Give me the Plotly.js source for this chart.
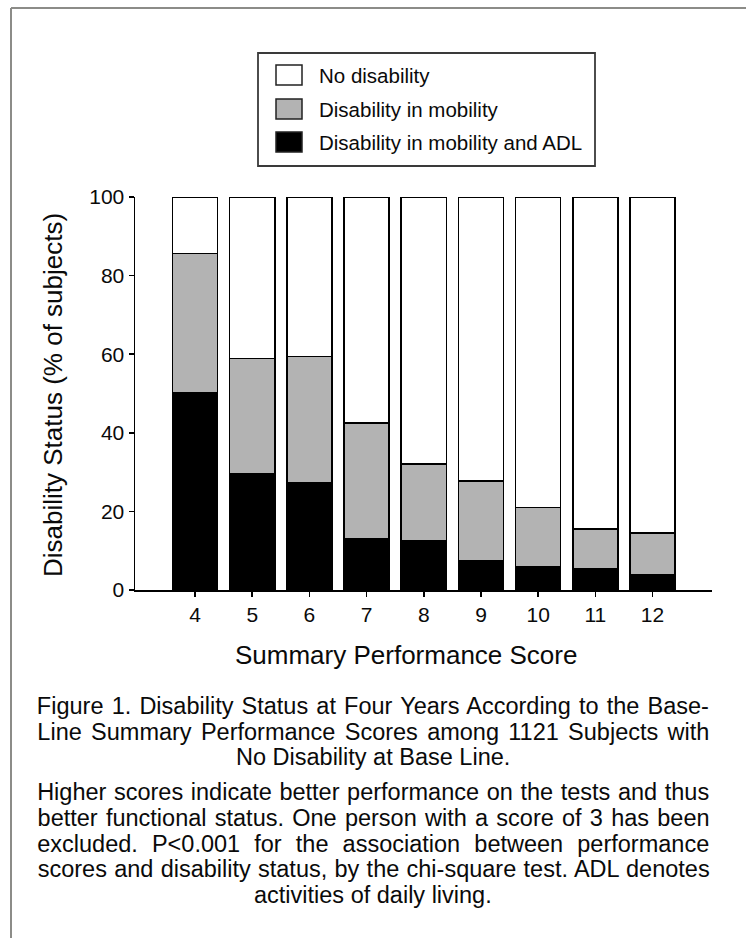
<!DOCTYPE html>
<html>
<head>
<meta charset="utf-8">
<script src="https://cdn.plot.ly/plotly-3.0.1.min.js"></script>
<style>
  html, body { margin: 0; padding: 0; background: #ffffff; }
  #chart { width: 746px; height: 938px; }
</style>
</head>
<body>
<div id="chart"></div>
<script>
// ---- data ----
const scores = [4, 5, 6, 7, 8, 9, 10, 11, 12];
const tickLabels = ["4", "5", "6", "7", "8", "9", "10", "11", "12"];
const seriesNames = ["No disability", "Disability in mobility", "Disability in mobility and ADL"];
const adl      = [50.3, 29.6, 27.4, 13.0, 12.5, 7.4, 6.0, 5.3, 4.0];
const mobility = [35.3, 29.3, 32.0, 29.5, 19.5, 20.4, 15.0, 10.2, 10.5];
const noDisab  = [14.4, 41.1, 40.6, 57.5, 68.0, 72.2, 79.0, 84.5, 85.5];
const yTicks = [0, 20, 40, 60, 80, 100];
const xTitle = "Summary Performance Score";
const yTitle = "Disability Status (% of subjects)";
const captionLines = [
  "Figure 1. Disability Status at Four Years According to the Base-",
  "Line Summary Performance Scores among 1121 Subjects with",
  "No Disability at Base Line.",
  "Higher scores indicate better performance on the tests and thus",
  "better functional status. One person with a score of 3 has been",
  "excluded. P&lt;0.001 for the association between performance",
  "scores and disability status, by the chi-square test. ADL denotes",
  "activities of daily living."
];
const captionJustified = [true, true, false, true, true, true, true, false];

// ---- layout geometry (pixels) ----
const W = 746, H = 938;
const L = 135, R = 712, T = 197, B = 590;
const px = x => (x - L) / (R - L);
const py = y => (B - y) / (B - T);

const FONT = "Liberation Sans, Arial, Helvetica, sans-serif";
const TXT = "#0a0a0a";
const colors = ["#ffffff", "#b3b3b3", "#000000"];
const lineStyle = { color: "#000000", width: 1.5 };

const traces = [
  { name: seriesNames[2], y: adl, color: colors[2] },
  { name: seriesNames[1], y: mobility, color: colors[1] },
  { name: seriesNames[0], y: noDisab, color: colors[0] }
].map(s => ({
  type: "bar",
  x: scores,
  y: s.y,
  name: s.name,
  width: 0.79,
  marker: { color: s.color, line: lineStyle },
  showlegend: false,
  hoverinfo: "x+y+name"
}));

// custom legend (box, swatches, labels)
const legendRows = [75, 109, 142];
const shapes = [
  // outer page frame
  { type: "line", xref: "paper", yref: "paper", x0: px(11), x1: px(W + 5), y0: py(8), y1: py(8),
    line: { color: "#8c8c88", width: 2 } },
  { type: "line", xref: "paper", yref: "paper", x0: px(11), x1: px(11), y0: py(8), y1: py(H + 5),
    line: { color: "#8c8c88", width: 2 } },
  // legend box
  { type: "rect", xref: "paper", yref: "paper", x0: px(258), x1: px(595), y0: py(53), y1: py(166),
    line: { color: "#3a3a3a", width: 1.8 }, fillcolor: "rgba(0,0,0,0)" }
];
const annotations = [];
[0, 1, 2].forEach((k, i) => {
  const cy = legendRows[i];
  shapes.push({ type: "rect", xref: "paper", yref: "paper",
    x0: px(276), x1: px(302), y0: py(cy - 10), y1: py(cy + 10),
    line: { color: "#222222", width: 1.5 }, fillcolor: colors[k] });
  annotations.push({ xref: "paper", yref: "paper", x: px(317), y: py(cy),
    xanchor: "left", yanchor: "middle", showarrow: false,
    text: seriesNames[k], font: { family: FONT, size: 20.5, color: TXT } });
});

// axis titles
annotations.push({ xref: "paper", yref: "paper", x: px(405.5), y: py(655),
  xanchor: "center", yanchor: "middle", showarrow: false,
  text: xTitle, font: { family: FONT, size: 26, color: TXT } });
annotations.push({ xref: "paper", yref: "paper", x: px(53), y: py(395),
  xanchor: "center", yanchor: "middle", showarrow: false, textangle: -90,
  text: yTitle, font: { family: FONT, size: 26, color: TXT } });

// caption
const CAP_L = 37, CAP_R = 709;
const capY = [706, 731.5, 757, 792, 818, 843.5, 869, 895];
const capStart = annotations.length;
captionLines.forEach((t, i) => {
  annotations.push({ xref: "paper", yref: "paper", x: px((CAP_L + CAP_R) / 2), y: py(capY[i]),
    xanchor: "center", yanchor: "middle", showarrow: false,
    text: t, font: { family: FONT, size: 23.5, color: TXT } });
});

const layout = {
  width: W, height: H,
  margin: { l: L, r: W - R, t: T, b: H - B, pad: 0 },
  paper_bgcolor: "#ffffff", plot_bgcolor: "#ffffff",
  barmode: "stack",
  showlegend: false,
  xaxis: {
    range: [2.95, 13.04], tickvals: scores, ticktext: tickLabels,
    showline: true, linecolor: "#000000", linewidth: 1.5,
    ticks: "outside", ticklen: 5, tickwidth: 1.5, tickcolor: "#000000",
    showgrid: false, zeroline: false,
    tickfont: { family: FONT, size: 21, color: TXT }
  },
  yaxis: {
    range: [0, 100], tickvals: yTicks,
    showline: true, linecolor: "#000000", linewidth: 1.5,
    ticks: "outside", ticklen: 5, tickwidth: 1.5, tickcolor: "#000000",
    showgrid: false, zeroline: false,
    tickfont: { family: FONT, size: 21, color: TXT }
  },
  shapes: shapes,
  annotations: annotations
};

Plotly.newPlot("chart", traces, layout, { displayModeBar: false, staticPlot: true }).then(gd => {
  // justify caption lines by adjusting word spacing (like the printed caption)
  const target = CAP_R - CAP_L;
  captionLines.forEach((t, i) => {
    if (!captionJustified[i]) return;
    const el = gd.querySelector('.annotation[data-index="' + (capStart + i) + '"] text.annotation-text');
    if (!el) return;
    const w = el.getComputedTextLength();
    const spaces = (el.textContent.match(/ /g) || []).length;
    if (spaces > 0) el.style.wordSpacing = ((target - w) / spaces).toFixed(2) + "px";
  });
});
</script>
</body>
</html>
